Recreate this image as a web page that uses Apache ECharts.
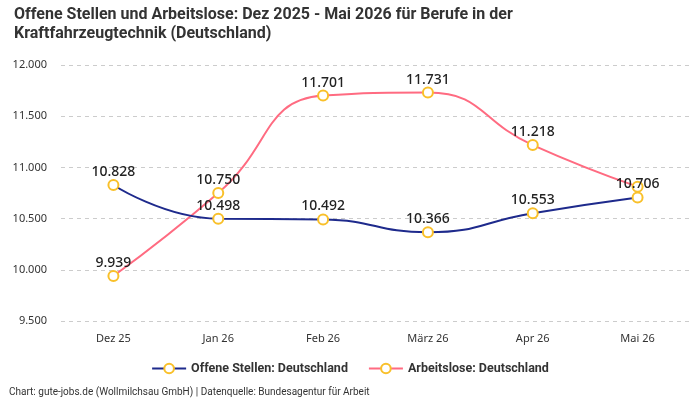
<!DOCTYPE html>
<html><head><meta charset="utf-8">
<script src="https://cdn.jsdelivr.net/npm/echarts@6/dist/echarts.min.js"></script>
<style>html,body{margin:0;padding:0;background:#fff}#c{width:700px;height:400px}</style>
</head><body><div id="c"></div>
<script>
const categories = ['Dez 25','Jan 26','Feb 26','März 26','Apr 26','Mai 26'];
const offeneStellen = [10828, 10498, 10492, 10366, 10553, 10706];
const arbeitslose = [9939, 10750, 11701, 11731, 11218, 10812];
const arbeitsloseLabelShown = [true, true, true, true, true, false];
const yTicks = [9500, 10000, 10500, 11000, 11500, 12000];

const fmt = v => v.toLocaleString('de-DE');
const FONT = 'Roboto, sans-serif';
const chart = echarts.init(document.getElementById('c'));
const marker = {color:'#fff', borderColor:'#f9c02a', borderWidth:2};
const lbl = {show:true, position:'top', distance:0, fontSize:14, color:'#222', fontFamily:'"Noto Sans", sans-serif', fontWeight:500, formatter:p=>fmt(p.value)};
chart.setOption({
  animation:false,
  title:{text:'Offene Stellen und Arbeitslose: Dez 2025 - Mai 2026 für Berufe in der\nKraftfahrzeugtechnik (Deutschland)', left:9, top:0,
    textStyle:{fontSize:16, fontWeight:'bold', color:'#333', fontFamily:FONT, lineHeight:19}},
  grid:{left:61, right:10, top:65, bottom:79},
  legend:{bottom:20, left:'center', itemWidth:34, itemHeight:12, itemGap:20,
    textStyle:{fontSize:12.5, fontWeight:'bold', color:'#333', fontFamily:FONT}},
  graphic:[{type:'text', left:9, top:387, style:{text:'Chart: gute-jobs.de (Wollmilchsau GmbH) | Datenquelle: Bundesagentur für Arbeit', fontSize:10, fill:'#333', fontFamily:FONT}}],
  xAxis:{type:'category', data:categories, axisLine:{show:false}, axisTick:{show:false},
    axisLabel:{fontSize:11, color:'#333', margin:12, fontFamily:'"Noto Sans", sans-serif'}},
  yAxis:{type:'value', min:yTicks[0], max:yTicks[yTicks.length-1], interval:500,
    axisLabel:{fontSize:11, color:'#333', margin:14, fontFamily:'"Noto Sans", sans-serif', formatter:v=>fmt(v)},
    splitLine:{lineStyle:{type:[4,4], color:'#ccc'}}},
  series:[
    {name:'Offene Stellen: Deutschland', type:'line', smooth:true, data:offeneStellen,
     lineStyle:{color:'#1e2a8c', width:2}, color:'#1e2a8c', symbol:'circle', symbolSize:10,
     itemStyle:marker, label:lbl, z:3},
    {name:'Arbeitslose: Deutschland', type:'line', smooth:true,
     data:arbeitslose.map((v,i)=>({value:v, label:{show:arbeitsloseLabelShown[i]}})),
     lineStyle:{color:'#ff6b81', width:2}, color:'#ff6b81', symbol:'circle', symbolSize:10,
     itemStyle:marker, label:lbl, z:2}
  ]
});
</script></body></html>
